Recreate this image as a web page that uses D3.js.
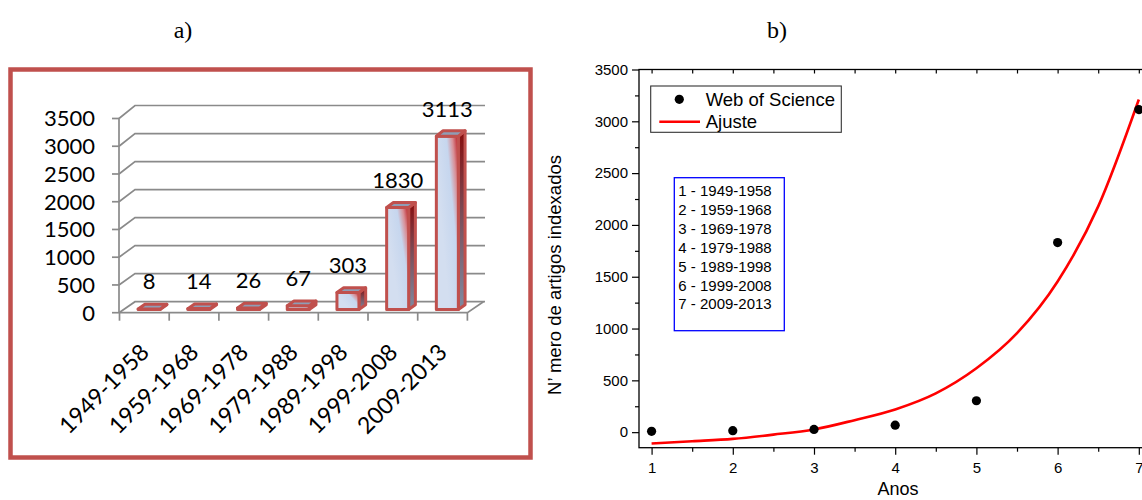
<!DOCTYPE html>
<html>
<head>
<meta charset="utf-8">
<script src="https://cdn.jsdelivr.net/npm/d3@7"></script>
<style>
  body { margin: 0; background: #fff; }
  svg { display: block; }
</style>
</head>
<body>
<svg id="fig" width="1142" height="500"></svg>
<script>
// Indexed articles per decade
const periods = ["1949-1958", "1959-1968", "1969-1978", "1979-1988", "1989-1998", "1999-2008", "2009-2013"];
const counts = [8, 14, 26, 67, 303, 1830, 3113];
const countTicks = [0, 500, 1000, 1500, 2000, 2500, 3000, 3500];

// Period index used on the x axis of panel b
const periodIndex = [1, 2, 3, 4, 5, 6, 7];
const indexTicks = [1, 2, 3, 4, 5, 6, 7];
const indexMinor = [1.5, 2.5, 3.5, 4.5, 5.5, 6.5];
const countMinor = [250, 750, 1250, 1750, 2250, 2750, 3250];

// Exponential fit, sampled along the curve
const fitX = [1, 1.5, 2, 2.5, 3, 3.5, 4, 4.5, 5, 5.5, 6, 6.5, 7];
const fitY = [-109, -88, -65, -24, 26, 116, 219, 374, 616, 955, 1454, 2179, 3211];

const svg = d3.select("#fig");
svg.append("rect").attr("width", 1142).attr("height", 500).attr("fill", "#fff");

// Panel titles
svg.append("text").attr("x", 183).attr("y", 38).attr("text-anchor", "middle")
  .style("font-family", "'Liberation Serif', serif").style("font-size", "24px").text("a)");
svg.append("text").attr("x", 777).attr("y", 38).attr("text-anchor", "middle")
  .style("font-family", "'Liberation Serif', serif").style("font-size", "24px").text("b)");

// ---------------- Panel a: 3-D column chart ----------------
const defs = svg.append("defs");
const gFront = defs.append("linearGradient").attr("id", "faceFront")
  .attr("x1", 0.3).attr("y1", 0.6).attr("x2", 1).attr("y2", 0.1);
gFront.append("stop").attr("offset", 0).attr("stop-color", "#d3def0");
gFront.append("stop").attr("offset", 0.55).attr("stop-color", "#c6d6ee");
gFront.append("stop").attr("offset", 0.8).attr("stop-color", "#d88f96");
gFront.append("stop").attr("offset", 1).attr("stop-color", "#c0343a");
const gSide = defs.append("linearGradient").attr("id", "faceSide")
  .attr("x1", 0).attr("y1", 0).attr("x2", 0).attr("y2", 1);
gSide.append("stop").attr("offset", 0).attr("stop-color", "#860c0c");
gSide.append("stop").attr("offset", 0.45).attr("stop-color", "#7b4a55");
gSide.append("stop").attr("offset", 1).attr("stop-color", "#7e8ba2");

const A = svg.append("g").attr("class", "panel-a");
A.append("rect").attr("x", 10.5).attr("y", 69.5).attr("width", 520).attr("height", 388)
  .attr("fill", "none").attr("stroke", "#c0504d").attr("stroke-width", 4.5);

const xFront = d3.scaleBand().domain(periods).range([119.5, 467.4]);
const yFront = d3.scaleLinear().domain([0, 3500]).range([312.7, 118.5]);
const yBack = d3.scaleLinear().domain([0, 3500]).range([301.7, 105.5]);
const depthX = 16;
const axisX = 119;
const gridRight = 485;
const pt = (x, v, f) => [x + f * depthX, yFront(v) + f * (yBack(v) - yFront(v))];

const gridCol = "#8a8a8a";
const grid = A.append("g").attr("fill", "none").attr("stroke", gridCol).attr("stroke-width", 1.7);
countTicks.forEach(v => {
  grid.append("path").attr("d", d3.line()([
    [axisX, yFront(v)], [axisX + depthX, yBack(v)], [gridRight, yBack(v)]
  ]));
  grid.append("line").attr("x1", axisX - 7).attr("x2", axisX)
    .attr("y1", yFront(v)).attr("y2", yFront(v));
});
grid.append("line").attr("x1", axisX).attr("x2", axisX)
  .attr("y1", yFront(0)).attr("y2", yFront(3500));
const floorRight = xFront.range()[1];
grid.append("path").attr("d", d3.line()([
  [axisX, yFront(0)], [floorRight, yFront(0)], [floorRight + depthX, yBack(0)]
]));
const step = xFront.step();
d3.range(periods.length + 1).forEach(i => {
  const x = xFront.range()[0] + i * step;
  grid.append("line").attr("x1", x).attr("x2", x)
    .attr("y1", yFront(0)).attr("y2", yFront(0) + 8);
});

A.append("g").selectAll("text").data(countTicks).join("text")
  .attr("x", 95).attr("y", d => yFront(d)).attr("dy", "0.36em")
  .attr("text-anchor", "end")
  .style("font-family", "Lato, sans-serif").style("font-size", "22px").attr("fill", "#000")
  .text(d => d);

// Columns
const half = 11, f0 = 0.3, f1 = 0.72;
const bars = A.append("g").attr("stroke", "#c0504d").attr("stroke-width", 3)
  .attr("stroke-linejoin", "round");
periods.forEach((p, i) => {
  const v = counts[i];
  const cx = xFront(p) + xFront.bandwidth() / 2;
  const g = bars.append("g");
  g.append("path").attr("fill", "url(#faceSide)").attr("d", d3.line()([
    pt(cx + half, 0, f0), pt(cx + half, 0, f1), pt(cx + half, v, f1), pt(cx + half, v, f0)
  ]) + "Z");
  g.append("path").attr("fill", "url(#faceFront)").attr("d", d3.line()([
    pt(cx - half, 0, f0), pt(cx + half, 0, f0), pt(cx + half, v, f0), pt(cx - half, v, f0)
  ]) + "Z");
  g.append("path").attr("fill", "#8f9db5").attr("d", d3.line()([
    pt(cx - half, v, f0), pt(cx + half, v, f0), pt(cx + half, v, f1), pt(cx - half, v, f1)
  ]) + "Z");
  const top = pt(cx, v, f0);
  A.append("text").attr("x", top[0]).attr("y", top[1] - 19.5).attr("text-anchor", "middle")
    .style("font-family", "Lato, sans-serif").style("font-size", "22px").attr("fill", "#000")
    .text(v);
  A.append("text")
    .attr("transform", `translate(${cx + 6},${yFront(0) + 41}) rotate(-45)`)
    .attr("text-anchor", "end")
    .style("font-family", "Lato, sans-serif").style("font-size", "23px").attr("fill", "#000")
    .text(p);
});

// ---------------- Panel b: fit of article counts ----------------
const B = svg.append("g").attr("class", "panel-b")
  .style("font-family", "'Liberation Sans', Arial, sans-serif");
const xR = d3.scaleLinear().domain([0.845, 7.155]).range([639, 1151.4]);
const yR = d3.scaleLinear().domain([-150, 3500]).range([447.7, 69.5]);
const [left, right] = xR.range();
const [bottom, topY] = yR.range();

B.append("g").attr("transform", `translate(${left},0)`)
  .call(d3.axisLeft(yR).tickValues(countTicks).tickSize(7).tickPadding(4).tickFormat(d3.format("d")));
B.append("g").attr("transform", `translate(${left},0)`)
  .call(d3.axisLeft(yR).tickValues(countMinor).tickSize(4).tickFormat(""));
B.append("g").attr("transform", `translate(0,${bottom})`)
  .call(d3.axisBottom(xR).tickValues(indexTicks).tickSize(7).tickPadding(8).tickFormat(d3.format("d")));
B.append("g").attr("transform", `translate(0,${bottom})`)
  .call(d3.axisBottom(xR).tickValues(indexMinor).tickSize(4).tickFormat(""));
B.append("g").attr("transform", `translate(0,${topY})`)
  .call(d3.axisBottom(xR).tickValues(indexTicks.concat(indexMinor)).tickSize(4).tickFormat(""));
B.selectAll(".domain").remove();
B.selectAll(".tick line").attr("stroke", "#000").attr("stroke-width", 1.2);
B.selectAll(".tick text").style("font-family", "'Liberation Sans', Arial, sans-serif")
  .style("font-size", "15px").attr("fill", "#000");

B.append("rect").attr("x", left).attr("y", topY).attr("width", right - left).attr("height", bottom - topY)
  .attr("fill", "none").attr("stroke", "#000").attr("stroke-width", 1.3);

// Fitted curve
B.append("path").datum(fitX.map((x, i) => [x, fitY[i]]))
  .attr("fill", "none").attr("stroke", "#ff0000").attr("stroke-width", 2.6)
  .attr("d", d3.line().x(d => xR(d[0])).y(d => yR(d[1])).curve(d3.curveMonotoneX));

// Data points
B.append("g").selectAll("circle").data(periodIndex).join("circle")
  .attr("cx", d => xR(d)).attr("cy", (d, i) => yR(counts[i])).attr("r", 4.6).attr("fill", "#000");

// Axis titles
B.append("text").attr("x", 898).attr("y", 495).attr("text-anchor", "middle")
  .style("font-size", "18px").attr("fill", "#000").text("Anos");
B.append("text").attr("transform", "translate(561,275) rotate(-90)").attr("text-anchor", "middle")
  .style("font-size", "18.5px").attr("fill", "#000").text("N’ mero de artigos indexados");

// Legend
const lg = B.append("g");
lg.append("rect").attr("x", 650.7).attr("y", 86).attr("width", 190.6).attr("height", 46.3)
  .attr("fill", "#fff").attr("stroke", "#333").attr("stroke-width", 1.1);
lg.append("circle").attr("cx", 679.3).attr("cy", 99.3).attr("r", 4.6).attr("fill", "#000");
lg.append("text").attr("x", 705.7).attr("y", 106).style("font-size", "18.5px").attr("fill", "#000")
  .text("Web of Science");
lg.append("line").attr("x1", 659.3).attr("x2", 700).attr("y1", 121.7).attr("y2", 121.7)
  .attr("stroke", "#ff0000").attr("stroke-width", 2.6);
lg.append("text").attr("x", 705.7).attr("y", 128).style("font-size", "18.5px").attr("fill", "#000")
  .text("Ajuste");

// Period key
const key = B.append("g");
key.append("rect").attr("x", 674.3).attr("y", 177.7).attr("width", 110).attr("height", 153)
  .attr("fill", "#fff").attr("stroke", "#0000ff").attr("stroke-width", 1.3);
key.selectAll("text").data(periods).join("text")
  .attr("x", 678.3).attr("y", (d, i) => 196 + i * 18.9)
  .style("font-size", "15px").attr("fill", "#000")
  .text((d, i) => `${periodIndex[i]} - ${d}`);
</script>
</body>
</html>
